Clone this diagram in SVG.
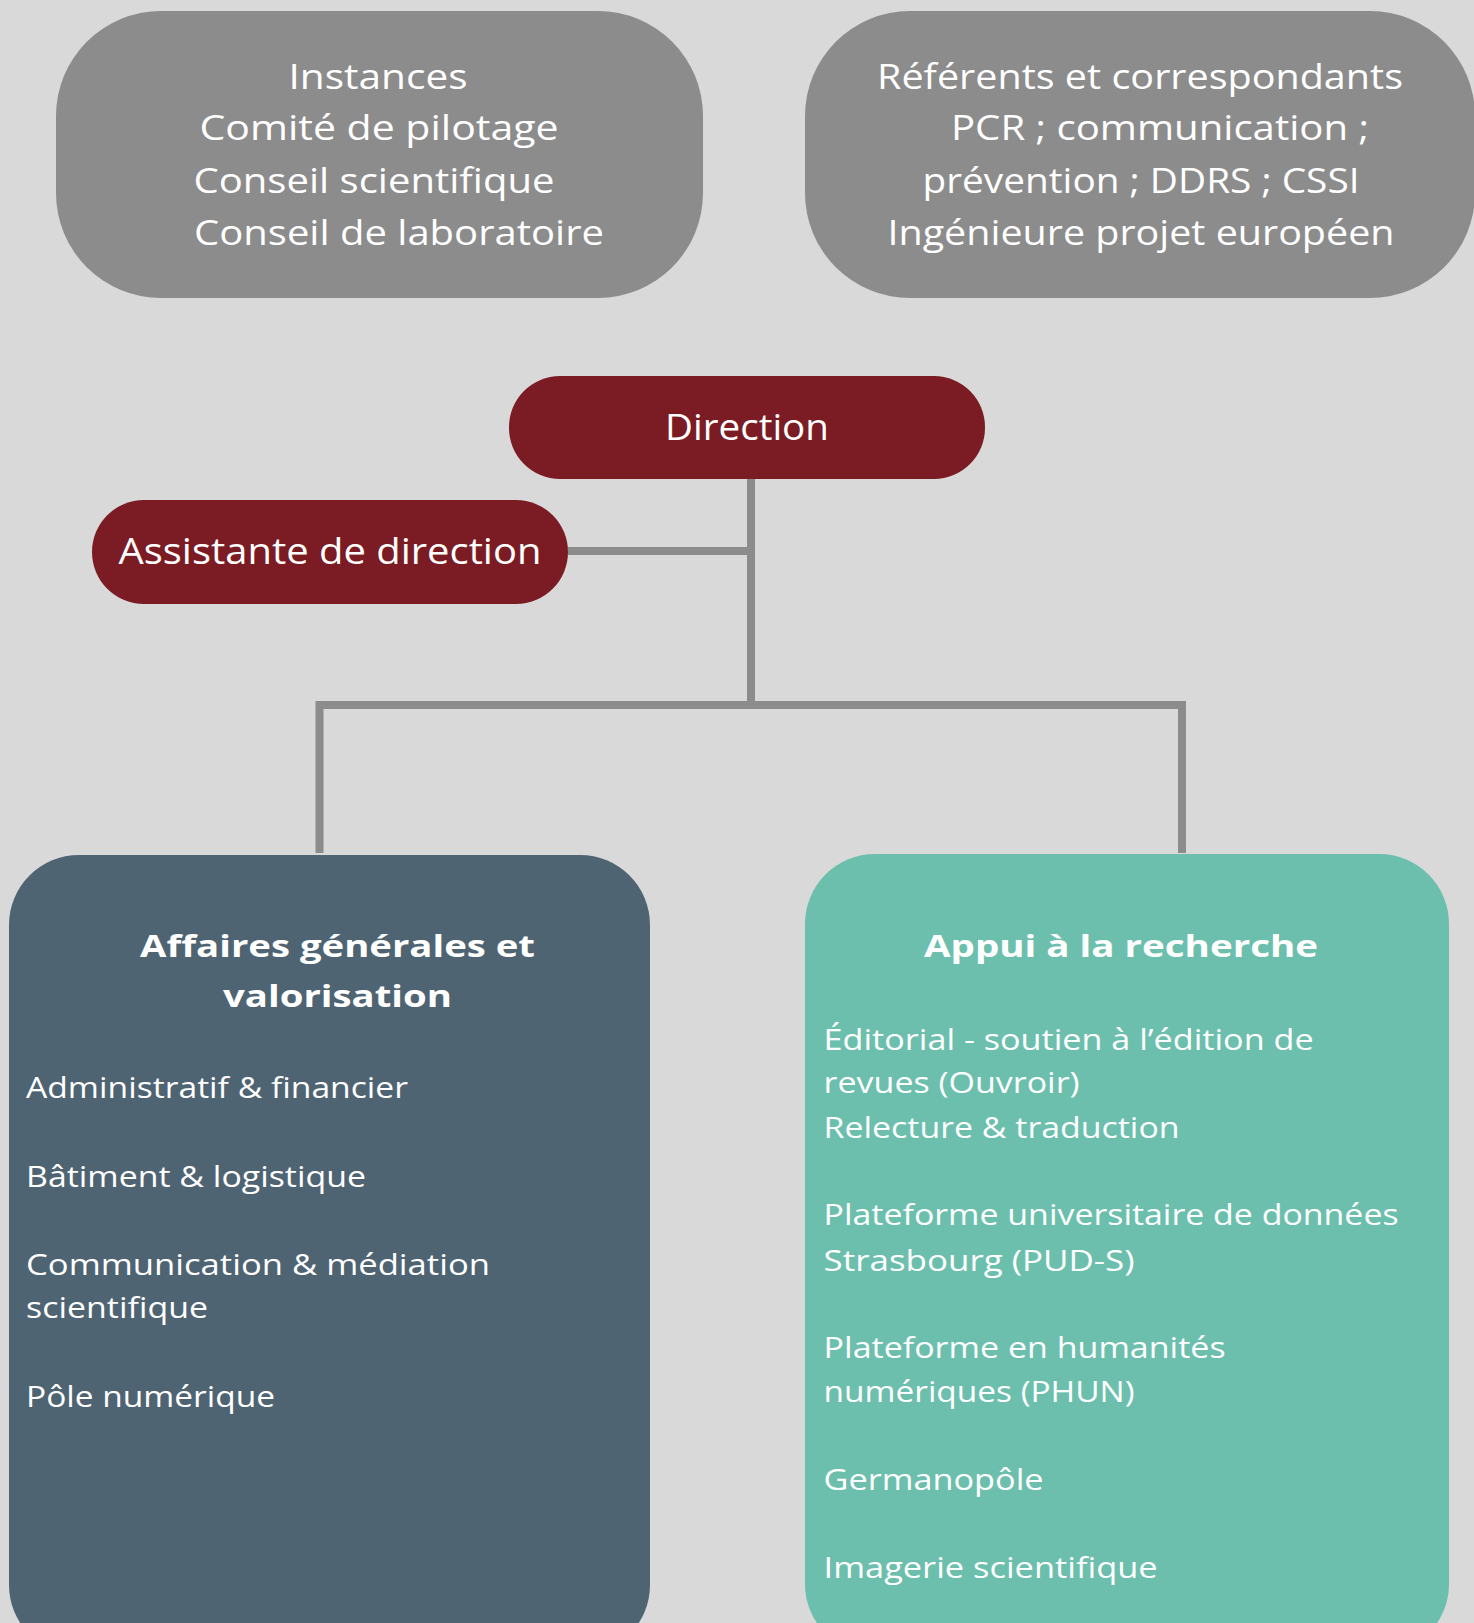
<svg xmlns="http://www.w3.org/2000/svg" width="1474" height="1623" viewBox="0 0 1474 1623">
<style>
.t{font-family:"Open Sans","Noto Sans","Liberation Sans",sans-serif;fill:#ffffff;}
.top{font-size:34px;text-anchor:middle;}
.red{font-size:36px;text-anchor:middle;}
.h{font-size:31px;font-weight:700;text-anchor:middle;}
.i{font-size:29px;}
.conn{fill:none;stroke:#8c8c8c;stroke-width:8;}
</style>
<rect width="1474" height="1623" fill="#d9d9d9"/>
<g id="connectors">
<path class="conn" d="M751 479 V705"/>
<path class="conn" d="M568 551 H751"/>
<path class="conn" d="M319.5 853 V705 H1182 V853"/>
</g>
<g id="instances">
<rect x="56" y="11" width="647" height="287" rx="105" ry="105" fill="#8c8c8c"/>
<text class="t top" x="378" y="89" textLength="179" lengthAdjust="spacingAndGlyphs">Instances</text>
<text class="t top" x="379" y="140" textLength="359" lengthAdjust="spacingAndGlyphs">Comité de pilotage</text>
<text class="t top" x="374" y="193" textLength="361" lengthAdjust="spacingAndGlyphs">Conseil scientifique</text>
<text class="t top" x="399" y="245" textLength="410" lengthAdjust="spacingAndGlyphs">Conseil de laboratoire</text>
</g>
<g id="referents">
<rect x="805" y="11" width="670" height="287" rx="105" ry="105" fill="#8c8c8c"/>
<text class="t top" x="1140" y="89" textLength="526" lengthAdjust="spacingAndGlyphs">Référents et correspondants</text>
<text class="t top" x="1160" y="140" textLength="418" lengthAdjust="spacingAndGlyphs">PCR ; communication ;</text>
<text class="t top" x="1141" y="193" textLength="437" lengthAdjust="spacingAndGlyphs">prévention ; DDRS ; CSSI</text>
<text class="t top" x="1141" y="245" textLength="507" lengthAdjust="spacingAndGlyphs">Ingénieure projet européen</text>
</g>
<g id="direction">
<rect x="509" y="376" width="476" height="103" rx="51" ry="51" fill="#7b1c24"/>
<text class="t red" x="747" y="440" textLength="164" lengthAdjust="spacingAndGlyphs">Direction</text>
</g>
<g id="assistante">
<rect x="92" y="500" width="476" height="104" rx="52" ry="52" fill="#7b1c24"/>
<text class="t red" x="330" y="564" textLength="423" lengthAdjust="spacingAndGlyphs">Assistante de direction</text>
</g>
<g id="affaires">
<rect x="9" y="855" width="641" height="800" rx="70" ry="70" fill="#4f6473"/>
<text class="t h" x="337.5" y="957" textLength="395" lengthAdjust="spacingAndGlyphs">Affaires générales et</text>
<text class="t h" x="337.5" y="1007" textLength="229" lengthAdjust="spacingAndGlyphs">valorisation</text>
<text class="t i" x="26" y="1098" textLength="382" lengthAdjust="spacingAndGlyphs">Administratif &amp; financier</text>
<text class="t i" x="26" y="1187" textLength="340" lengthAdjust="spacingAndGlyphs">Bâtiment &amp; logistique</text>
<text class="t i" x="26" y="1275" textLength="464" lengthAdjust="spacingAndGlyphs">Communication &amp; médiation</text>
<text class="t i" x="26" y="1318" textLength="182" lengthAdjust="spacingAndGlyphs">scientifique</text>
<text class="t i" x="26" y="1407" textLength="249" lengthAdjust="spacingAndGlyphs">Pôle numérique</text>
</g>
<g id="appui">
<rect x="805" y="854" width="644" height="800" rx="70" ry="70" fill="#6cbfad"/>
<text class="t h" x="1121" y="957" textLength="394" lengthAdjust="spacingAndGlyphs">Appui à la recherche</text>
<text class="t i" x="823.6" y="1050" textLength="490" lengthAdjust="spacingAndGlyphs">Éditorial - soutien à l’édition de</text>
<text class="t i" x="823.6" y="1093" textLength="256" lengthAdjust="spacingAndGlyphs">revues (Ouvroir)</text>
<text class="t i" x="823.6" y="1138" textLength="356" lengthAdjust="spacingAndGlyphs">Relecture &amp; traduction</text>
<text class="t i" x="823.6" y="1225" textLength="575" lengthAdjust="spacingAndGlyphs">Plateforme universitaire de données</text>
<text class="t i" x="823.6" y="1271" textLength="311" lengthAdjust="spacingAndGlyphs">Strasbourg (PUD-S)</text>
<text class="t i" x="823.6" y="1358" textLength="402" lengthAdjust="spacingAndGlyphs">Plateforme en humanités</text>
<text class="t i" x="823.6" y="1402" textLength="311" lengthAdjust="spacingAndGlyphs">numériques (PHUN)</text>
<text class="t i" x="823.6" y="1490" textLength="220" lengthAdjust="spacingAndGlyphs">Germanopôle</text>
<text class="t i" x="823.6" y="1578" textLength="334" lengthAdjust="spacingAndGlyphs">Imagerie scientifique</text>
</g>
</svg>
